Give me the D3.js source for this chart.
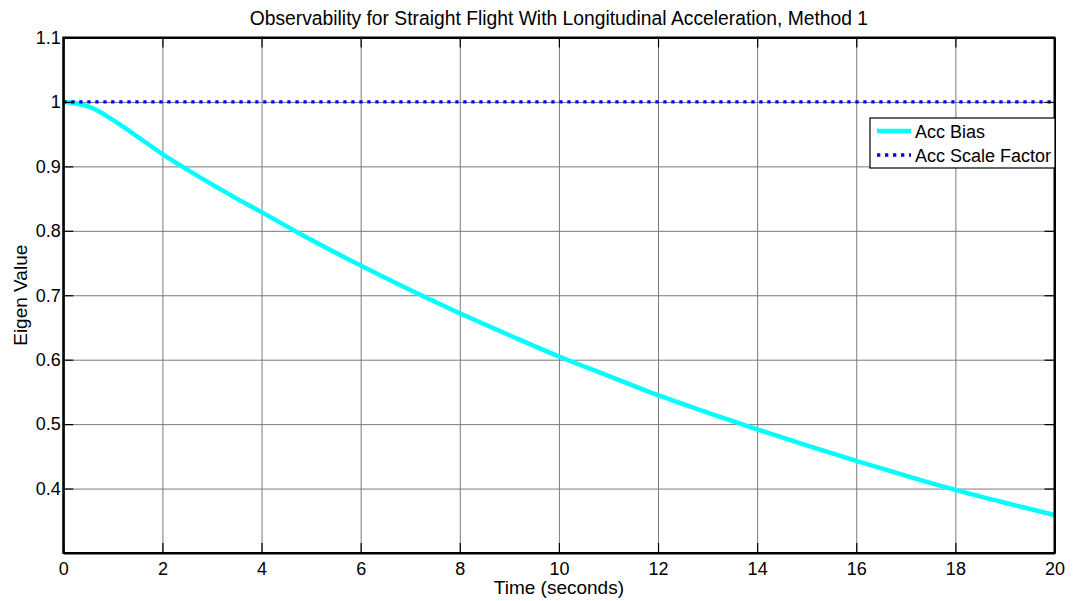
<!DOCTYPE html>
<html>
<head>
<meta charset="utf-8">
<script src="https://cdn.jsdelivr.net/npm/d3@7"></script>
<style>
  html, body { margin: 0; padding: 0; background: #fff; }
  svg { display: block; font-family: "Liberation Sans", Arial, sans-serif; }
</style>
</head>
<body>
<svg id="chart" width="1074" height="601"></svg>
<script>
// ---- data ----
const titleText = "Observability for Straight Flight With Longitudinal Acceleration, Method 1";
const xLabel = "Time (seconds)";
const yLabel = "Eigen Value";
const seriesNames = ["Acc Bias", "Acc Scale Factor"];
const time = [0, 0.25, 0.5, 0.75, 1, 1.5, 2, 2.5, 3, 3.5, 4, 5, 6, 7, 8, 9, 10, 11, 12, 13, 14, 15, 16, 17, 18, 19, 20];
const accBias = [1.000, 0.998, 0.993, 0.984, 0.972, 0.946, 0.919, 0.895, 0.872, 0.850, 0.829, 0.786, 0.746, 0.708, 0.672, 0.638, 0.605, 0.575, 0.545, 0.518, 0.492, 0.467, 0.443, 0.420, 0.398, 0.378, 0.359];
const accScaleFactor = [1, 1, 1, 1, 1, 1, 1, 1, 1, 1, 1, 1, 1, 1, 1, 1, 1, 1, 1, 1, 1, 1, 1, 1, 1, 1, 1];
const xTicks = [0, 2, 4, 6, 8, 10, 12, 14, 16, 18, 20];
const yTicks = [0.4, 0.5, 0.6, 0.7, 0.8, 0.9, 1.0, 1.1];
const yTickLabels = ["0.4", "0.5", "0.6", "0.7", "0.8", "0.9", "1", "1.1"];

// ---- layout ----
const L = 63.3, R = 1054.5, T = 37.5, B = 553;
const svg = d3.select("#chart");
const x = d3.scaleLinear().domain([0, 20]).range([L, R]);
const y = d3.scaleLinear().domain([0.3, 1.1]).range([B, T]);

// grid
const grid = svg.append("g");
grid.append("g").attr("transform", `translate(0,${B})`)
  .call(d3.axisBottom(x).tickValues(xTicks.slice(1, -1)).tickSize(-(B - T)).tickFormat(""))
  .call(g => g.select(".domain").remove())
  .call(g => g.selectAll("line").attr("stroke", "#7a7a7a").attr("stroke-width", 1));
grid.append("g").attr("transform", `translate(${L},0)`)
  .call(d3.axisLeft(y).tickValues(yTicks.slice(0, -1)).tickSize(-(R - L)).tickFormat(""))
  .call(g => g.select(".domain").remove())
  .call(g => g.selectAll("line").attr("stroke", "#7a7a7a").attr("stroke-width", 1));

// series
const pts = (ys) => time.map((t, i) => [t, ys[i]]);
const line = d3.line().x(d => x(d[0])).y(d => y(d[1])).curve(d3.curveCatmullRom.alpha(0.5));
svg.append("path").datum(pts(accBias)).attr("d", line)
  .attr("fill", "none").attr("stroke", "#00ffff").attr("stroke-width", 4.5);
svg.append("path").datum(pts(accScaleFactor)).attr("d", line)
  .attr("fill", "none").attr("stroke", "#0000ff").attr("stroke-width", 3.3)
  .attr("stroke-dasharray", "3.3,4.7");

// axes (inward ticks)
const fs = 18;
const xAxis = svg.append("g").attr("transform", `translate(0,${B})`)
  .call(d3.axisBottom(x).tickValues(xTicks).tickFormat(d3.format("d")).tickSizeInner(-10).tickSizeOuter(0).tickPadding(9));
const yAxis = svg.append("g").attr("transform", `translate(${L},0)`)
  .call(d3.axisLeft(y).tickValues(yTicks).tickFormat((d, i) => yTickLabels[i]).tickSizeInner(-10).tickSizeOuter(0).tickPadding(2.5));
const xTop = svg.append("g").attr("transform", `translate(0,${T})`)
  .call(d3.axisTop(x).tickValues(xTicks).tickFormat("").tickSizeInner(-10).tickSizeOuter(0));
const yRight = svg.append("g").attr("transform", `translate(${R},0)`)
  .call(d3.axisRight(y).tickValues(yTicks).tickFormat("").tickSizeInner(-10).tickSizeOuter(0));
[xAxis, yAxis, xTop, yRight].forEach(g => {
  g.attr("font-family", null).attr("font-size", fs);
  g.selectAll("line").attr("stroke", "#000").attr("stroke-width", 1.2);
  g.select(".domain").attr("stroke", "#000").attr("stroke-width", 2);
  g.selectAll("text").attr("fill", "#000");
});

// box
svg.append("rect").attr("x", L).attr("y", T).attr("width", R - L).attr("height", B - T)
  .attr("fill", "none").attr("stroke", "#000").attr("stroke-width", 2);

// title & labels
svg.append("text").attr("x", (L + R) / 2).attr("y", 25).attr("text-anchor", "middle")
  .attr("font-size", 19.3).text(titleText);
svg.append("text").attr("x", (L + R) / 2).attr("y", 594).attr("text-anchor", "middle")
  .attr("font-size", 19).text(xLabel);
svg.append("text").attr("transform", `translate(26.5,${(T + B) / 2}) rotate(-90)`)
  .attr("text-anchor", "middle").attr("font-size", 19).text(yLabel);

// legend
const lg = svg.append("g");
lg.append("rect").attr("x", 870).attr("y", 118).attr("width", 185).attr("height", 50)
  .attr("fill", "#fff").attr("stroke", "#000").attr("stroke-width", 1.2);
const legStyles = [
  { color: "#00ffff", w: 4.5, dash: null },
  { color: "#0000ff", w: 3.3, dash: "3.3,4.7" }
];
seriesNames.forEach((name, i) => {
  const yy = 131 + i * 24;
  lg.append("line").attr("x1", 877).attr("x2", 911).attr("y1", yy).attr("y2", yy)
    .attr("stroke", legStyles[i].color).attr("stroke-width", legStyles[i].w)
    .attr("stroke-dasharray", legStyles[i].dash);
  lg.append("text").attr("x", 915).attr("y", yy + 6.5).attr("font-size", fs).text(name);
});
</script>
</body>
</html>
